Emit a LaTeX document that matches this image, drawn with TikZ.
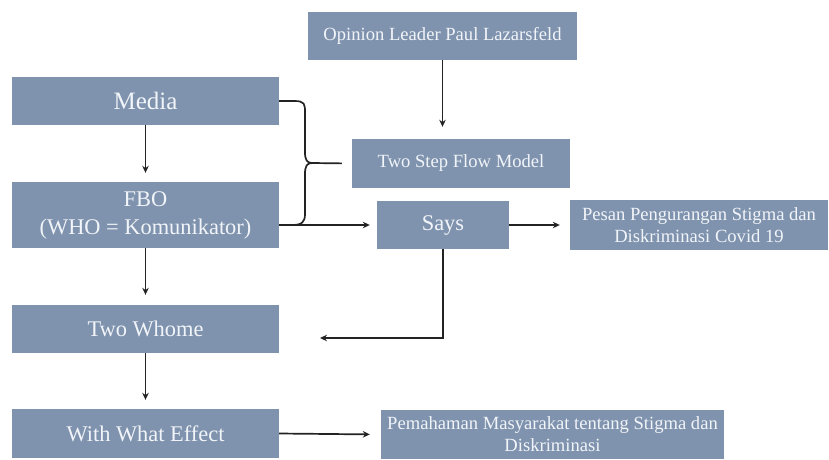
\documentclass[tikz,border=0pt]{standalone}
\usepackage{fontspec}
\setmainfont{Liberation Serif}
\newfontfamily\boxfont{Liberation Serif}
\usetikzlibrary{arrows.meta,calc}
\definecolor{boxblue}{RGB}{127,147,174}
\definecolor{boxtext}{RGB}{241,244,248}
\definecolor{linegray}{RGB}{35,35,35}
\def\bigfont{\boxfont\fontsize{25}{30}\selectfont}
\def\midfont{\boxfont\fontsize{22.4}{28}\selectfont}
\def\smallfont{\boxfont\fontsize{18.6}{22}\selectfont}

\begin{document}
\begin{tikzpicture}[x=1pt,y=-1pt,
    box/.style={fill=boxblue,text=boxtext,inner sep=0pt,align=center},
    leftbox/.style={box,minimum width=267pt,minimum height=48pt,font=\midfont},
    link/.style={draw=linegray,line width=1.7pt},
    arr/.style={link,-{Stealth[length=7pt,width=6.5pt]}}]
\useasboundingbox (0,0) rectangle (829,459);
\node[box,minimum width=269pt,minimum height=48pt,font=\smallfont] (opinion) at (442.5,36) {Opinion Leader Paul Lazarsfeld};
\node[leftbox,font=\bigfont] (media) at (145.5,101) {Media};
\node[box,minimum width=218pt,minimum height=49pt,font=\smallfont] (twostep) at (461,163.5) {Two Step Flow Model};
\node[leftbox,minimum height=66pt] (fbo) at (145.5,215) {FBO\\(WHO = Komunikator)};
\node[box,minimum width=132pt,minimum height=48pt,font=\midfont] (says) at (443,225) {Says};
\node[box,minimum width=258pt,minimum height=50pt,font=\smallfont] (pesan) at (699,225) {Pesan Pengurangan Stigma dan\\Diskriminasi Covid 19};
\node[leftbox] (whome) at (145.5,329) {Two Whome};
\node[leftbox,minimum height=49pt] (effect) at (145.5,433.5) {With What Effect};
\node[box,minimum width=343pt,minimum height=49pt,font=\smallfont] (paham) at (552.5,434.5) {Pemahaman Masyarakat tentang Stigma dan\\Diskriminasi};
\coordinate (cusp) at (312,163);
\coordinate (back) at (320,338);

\draw[arr,shorten >=12pt] (opinion.south) -- (opinion.south |- twostep.north);
\draw[arr,shorten >=9pt] (media) -- (fbo);
\draw[arr,shorten >=10pt] (fbo) -- (whome);
\draw[arr,shorten >=9pt] (whome) -- (effect);
\draw[arr,shorten >=7pt] (fbo.east |- says.west) -- (says.west);
\draw[arr,shorten >=10pt] (says.east) -- (pesan.west);
\draw[arr] (says.south) |- (back);
\draw[arr,shorten >=11pt] (effect.east) -- (paham.west);
% brace
\draw[link] (media.east) -- (294,101) .. controls (305,101) and (305,104) .. (305,113)
  -- (305,152) .. controls (305,160) and (307,163) .. (cusp)
  .. controls (307,163) and (305,166) .. (305,174)
  -- (305,214) .. controls (305,222) and (302,225) .. (292,225) -- (279,225);
\draw[link,shorten >=10pt] (cusp) -- (twostep.west);
\end{tikzpicture}
\end{document}
